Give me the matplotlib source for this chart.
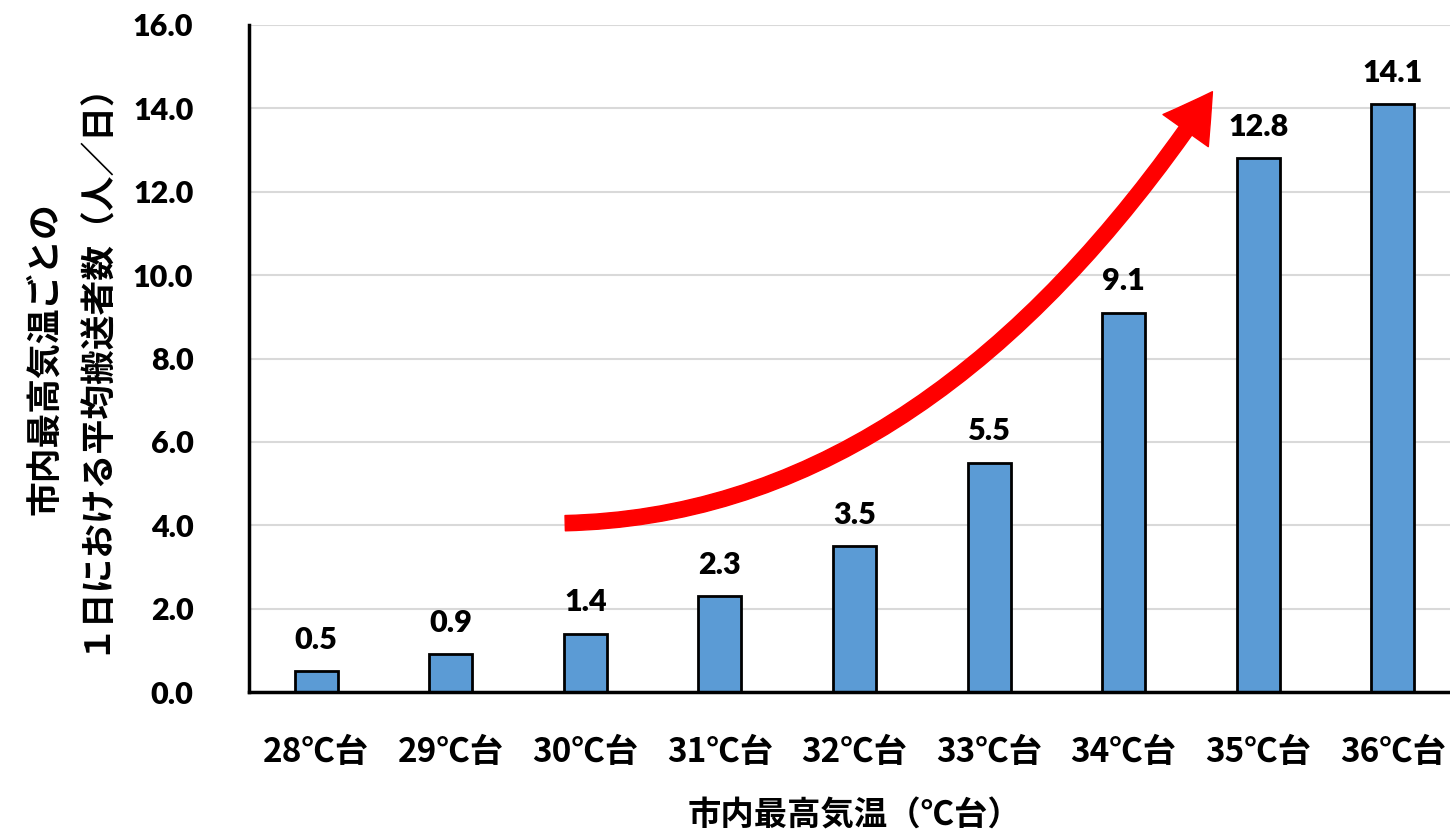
import matplotlib.pyplot as plt
from matplotlib.patches import FancyArrowPatch, ArrowStyle
from matplotlib.path import Path

# 市内最高気温ごとの1日平均搬送者数
categories = ['28℃台', '29℃台', '30℃台', '31℃台', '32℃台', '33℃台', '34℃台', '35℃台', '36℃台']
values = [0.5, 0.9, 1.4, 2.3, 3.5, 5.5, 9.1, 12.8, 14.1]
yticks = [0, 2, 4, 6, 8, 10, 12, 14, 16]

# 増加傾向を示す矢印（始点・制御点・終点）
arrow_pts = [(1.85, 4.05), (4.56, 4.25), (6.66, 14.4)]

fonts = ['Lato', 'Noto Sans CJK JP', 'DejaVu Sans']
cjk = ['Noto Sans CJK JP', 'DejaVu Sans']
plt.rcParams['font.family'] = fonts
plt.rcParams['font.weight'] = 'bold'

fig = plt.figure(figsize=(14.5, 8.33), dpi=100)
ax = fig.add_axes([249 / 1450, 1 - 692 / 833, 1211 / 1450, 667 / 833])

x = range(len(categories))
bars = ax.bar(x, values, width=0.32, color='#5B9BD5', edgecolor='black', linewidth=2, zorder=3)

for xi, v in zip(x, values):
    ax.text(xi, v + 0.42, f'{v:.1f}', ha='center', va='bottom', fontsize=22, fontweight='heavy')

ax.set_xlim(-0.5, len(categories) - 0.5)
ax.set_ylim(0, 16)
ax.set_yticks(yticks)
ax.set_yticklabels([f'{t:.1f}' for t in yticks], fontsize=22, fontweight='heavy')
ax.set_xticks(list(x))
ax.set_xticklabels(categories, fontsize=24, fontweight='bold', family=cjk)
ax.tick_params(axis='both', length=0)
ax.tick_params(axis='y', pad=40)
ax.tick_params(axis='x', pad=32)

ax.grid(axis='y', color='#D9D9D9', linewidth=1.5, zorder=0)
for side in ['top', 'right']:
    ax.spines[side].set_visible(False)
ax.spines['left'].set_linewidth(2.5)
ax.spines['bottom'].set_linewidth(2.5)
ax.spines['bottom'].set_zorder(4)

ax.set_ylabel('市内最高気温ごとの\n１日における平均搬送者数（人／日）', fontsize=25, fontweight='bold',
              family=cjk, linespacing=1.5, labelpad=16)
ax.set_xlabel('市内最高気温（℃台）', fontsize=24, fontweight='bold', family=cjk, labelpad=22)

path = Path(arrow_pts, [Path.MOVETO, Path.CURVE3, Path.CURVE3])
style = ArrowStyle('Simple', tail_width=11, head_width=40, head_length=34)
arrow = FancyArrowPatch(path=path, arrowstyle=style, color='#FF0000', mutation_scale=1,
                        shrinkA=0, shrinkB=0, zorder=5)
ax.add_patch(arrow)

fig.savefig('out.png', dpi=100)
